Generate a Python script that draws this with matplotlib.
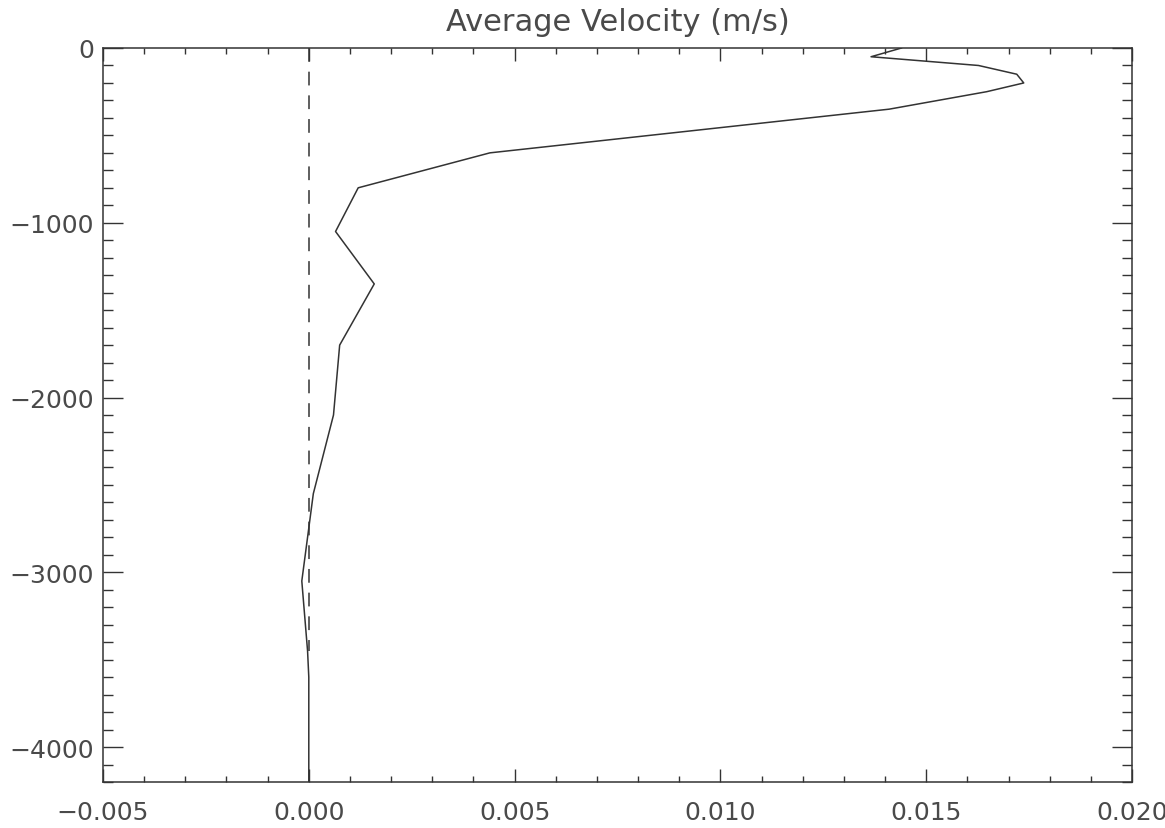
import matplotlib
matplotlib.use("Agg")
import matplotlib.pyplot as plt
from matplotlib.ticker import MultipleLocator, FuncFormatter

# profile
depth = [0, -50, -100, -150, -200, -250, -350, -600, -800, -1050, -1350,
         -1700, -2100, -2550, -3050, -3450, -3600, -4200]
velocity = [0.0144, 0.01366, 0.01627, 0.0172, 0.01737, 0.01647, 0.0141,
            0.0044, 0.0012, 0.00065, 0.00159, 0.00075, 0.0006, 0.00011,
            -0.00017, -0.00003, 0.0, 0.0]

# zero reference line (dashed)
ref_depth = [0, -3450]
ref_velocity = [0.0, 0.0]

title = "Average Velocity (m/s)"
xlim = (-0.005, 0.020)
ylim = (-4200, 0)

ink = "#333333"
txt = "#4a4a4a"

fig = plt.figure(figsize=(11.65, 8.29), dpi=100)
ax = fig.add_axes([103 / 1165, 1 - 783 / 829, (1132 - 103) / 1165, (783 - 49) / 829])

ax.plot(velocity, depth, color=ink, linewidth=1.1)
ax.plot(ref_velocity, ref_depth, color=ink, linewidth=1.1, dashes=(9, 6.5))

ax.set_xlim(*xlim)
ax.set_ylim(*ylim)

ax.xaxis.set_major_locator(MultipleLocator(0.005))
ax.xaxis.set_minor_locator(MultipleLocator(0.001))
ax.yaxis.set_major_locator(MultipleLocator(1000))
ax.yaxis.set_minor_locator(MultipleLocator(100))
ax.xaxis.set_major_formatter(FuncFormatter(lambda v, p: ("%.3f" % v).replace("-", "\u2212")))
ax.yaxis.set_major_formatter(FuncFormatter(lambda v, p: ("%d" % round(v)).replace("-", "\u2212")))

ax.tick_params(axis="both", which="both", direction="in", top=True, right=True,
               color=ink, width=1.0, labelcolor=txt, labelsize=18)
ax.tick_params(axis="x", which="major", length=9.5, pad=13)
ax.tick_params(axis="x", which="minor", length=4.5)
ax.tick_params(axis="y", which="major", length=14.5, pad=6.5)
ax.tick_params(axis="y", which="minor", length=7)

for s in ax.spines.values():
    s.set_color(ink)
    s.set_linewidth(1.1)

ax.set_title(title, fontsize=22, color=txt, pad=13)

fig.savefig("out.png", dpi=100)
